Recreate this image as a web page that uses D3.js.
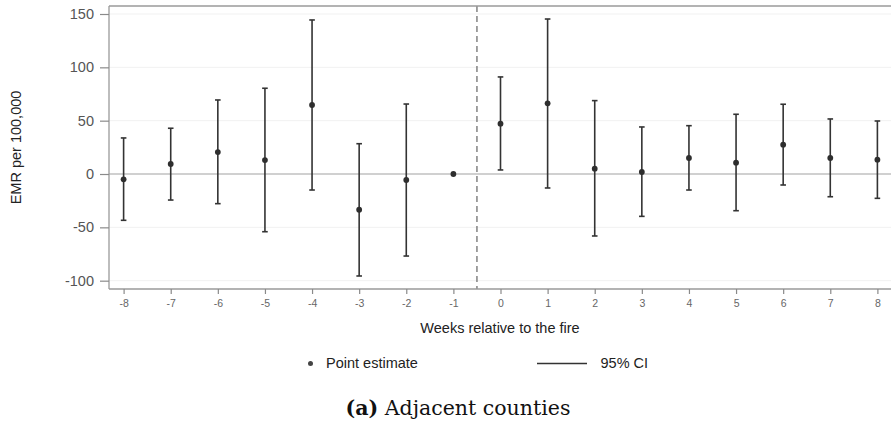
<!DOCTYPE html>
<html>
<head>
<meta charset="utf-8">
<script src="https://cdn.jsdelivr.net/npm/d3@7"></script>
<style>
  html, body { margin: 0; padding: 0; background: #fff; }
  svg { display: block; }
</style>
</head>
<body>
<svg id="chart" width="891" height="426"></svg>
<script>
// Event-study estimates: weeks relative to the fire
const weeks    = [-8, -7, -6, -5, -4, -3, -2, -1, 0, 1, 2, 3, 4, 5, 6, 7, 8];
const estimate = [-5.0, 9.4, 20.6, 13.1, 64.7, -33.5, -5.6, 0, 47.2, 66.3, 5.0, 1.9, 15.0, 10.6, 27.5, 15.0, 13.4];
const ciLower  = [-43.4, -24.4, -27.8, -54.1, -15.0, -95.6, -76.9, null, 3.8, -13.1, -58.1, -39.7, -15.0, -34.4, -10.3, -21.3, -22.8];
const ciUpper  = [33.8, 42.9, 69.4, 80.4, 144.4, 28.4, 65.6, null, 91.0, 145.3, 68.8, 44.1, 45.3, 56.0, 65.4, 51.6, 49.7];
const yTicks   = [-100, -50, 0, 50, 100, 150];
const legendLabels = ["Point estimate", "95% CI"];

const svg = d3.select("#chart");
const font = "'Liberation Sans', Arial, sans-serif";
const hyphenInt = d => (d < 0 ? "-" : "") + Math.abs(d);

const plot = { left: 109, right: 892, top: 6, bottom: 289 };

const x = d3.scaleLinear().domain([-8.31, 8.31]).range([plot.left, plot.right]);
const y = d3.scaleLinear().domain([-107.8, 157.5]).range([plot.bottom, plot.top]);

// light horizontal gridlines
svg.append("g")
  .selectAll("line")
  .data(yTicks)
  .join("line")
  .attr("x1", plot.left).attr("x2", plot.right)
  .attr("y1", d => y(d)).attr("y2", d => y(d))
  .attr("stroke", "#f1f1f1").attr("stroke-width", 1);

// zero reference line
svg.append("line")
  .attr("x1", plot.left).attr("x2", plot.right)
  .attr("y1", y(0)).attr("y2", y(0))
  .attr("stroke", "#a8a8a8").attr("stroke-width", 1.2);

// treatment onset marker between week -1 and week 0
svg.append("line")
  .attr("x1", x(-0.5)).attr("x2", x(-0.5))
  .attr("y1", plot.top).attr("y2", plot.bottom)
  .attr("stroke", "#707070").attr("stroke-width", 1.3)
  .attr("stroke-dasharray", "6,4");

// frame
svg.append("line")
  .attr("x1", plot.left).attr("x2", plot.right)
  .attr("y1", plot.top).attr("y2", plot.top)
  .attr("stroke", "#9a9a9a").attr("stroke-width", 1.3);

// y axis
const yAxis = svg.append("g")
  .attr("transform", `translate(${plot.left},0)`)
  .call(d3.axisLeft(y).tickValues(yTicks).tickSize(9).tickSizeOuter(0).tickPadding(6)
    .tickFormat(hyphenInt));
yAxis.select(".domain").attr("stroke", "#9a9a9a").attr("stroke-width", 1.3)
  .attr("d", `M0,${plot.top}V${plot.bottom}`);
yAxis.selectAll(".tick line").attr("stroke", "#8a8a8a").attr("stroke-width", 1.2);
yAxis.selectAll(".tick text")
  .attr("font-family", font).attr("font-size", 14.5).attr("fill", "#555");

// x axis
const xAxis = svg.append("g")
  .attr("transform", `translate(0,${plot.bottom})`)
  .call(d3.axisBottom(x).tickValues(weeks).tickSize(5).tickSizeOuter(0).tickPadding(6)
    .tickFormat(hyphenInt));
xAxis.select(".domain").attr("stroke", "#9a9a9a").attr("stroke-width", 1.3)
  .attr("d", `M${plot.left},0H${plot.right}`);
xAxis.selectAll(".tick line").attr("stroke", "#8a8a8a").attr("stroke-width", 1.2);
xAxis.selectAll(".tick text")
  .attr("font-family", font).attr("font-size", 10.5).attr("fill", "#666");

// confidence intervals
const rows = weeks.map((w, i) => ({ w, est: estimate[i], lo: ciLower[i], hi: ciUpper[i] }));
const ci = rows.filter(d => d.lo !== null);
const bars = svg.append("g").attr("stroke", "#333").attr("stroke-width", 1.6);
bars.selectAll("line.stem").data(ci).join("line").attr("class", "stem")
  .attr("x1", d => x(d.w)).attr("x2", d => x(d.w))
  .attr("y1", d => y(d.lo)).attr("y2", d => y(d.hi));
bars.selectAll("line.capHi").data(ci).join("line").attr("class", "capHi")
  .attr("x1", d => x(d.w) - 2.8).attr("x2", d => x(d.w) + 2.8)
  .attr("y1", d => y(d.hi)).attr("y2", d => y(d.hi));
bars.selectAll("line.capLo").data(ci).join("line").attr("class", "capLo")
  .attr("x1", d => x(d.w) - 2.8).attr("x2", d => x(d.w) + 2.8)
  .attr("y1", d => y(d.lo)).attr("y2", d => y(d.lo));

// point estimates
svg.append("g").selectAll("circle").data(rows).join("circle")
  .attr("cx", d => x(d.w)).attr("cy", d => y(d.est)).attr("r", 2.9)
  .attr("fill", "#2e2e2e");

// axis titles
svg.append("text")
  .attr("transform", `translate(21,${(plot.top + plot.bottom) / 2}) rotate(-90)`)
  .attr("text-anchor", "middle")
  .attr("font-family", font).attr("font-size", 14.5).attr("fill", "#222")
  .text("EMR per 100,000");

svg.append("text")
  .attr("x", 500).attr("y", 333)
  .attr("text-anchor", "middle")
  .attr("font-family", font).attr("font-size", 14.5).attr("fill", "#222")
  .text("Weeks relative to the fire");

// legend
const legend = svg.append("g");
legend.append("circle").attr("cx", 310.5).attr("cy", 363.5).attr("r", 2.5).attr("fill", "#444");
legend.append("text").attr("x", 326).attr("y", 368)
  .attr("font-family", font).attr("font-size", 14.5).attr("fill", "#222")
  .text(legendLabels[0]);
legend.append("line").attr("x1", 537).attr("x2", 587).attr("y1", 363.5).attr("y2", 363.5)
  .attr("stroke", "#333").attr("stroke-width", 1.4);
legend.append("text").attr("x", 600.5).attr("y", 368)
  .attr("font-family", font).attr("font-size", 14.5).attr("fill", "#222")
  .text(legendLabels[1]);

// panel caption
const caption = svg.append("text")
  .attr("x", 458).attr("y", 415)
  .attr("text-anchor", "middle")
  .attr("font-family", "'DejaVu Serif', 'Liberation Serif', serif")
  .attr("font-size", 20.5).attr("fill", "#111");
caption.append("tspan").attr("font-weight", "bold").text("(a)");
caption.append("tspan").text(" Adjacent counties");
</script>
</body>
</html>
